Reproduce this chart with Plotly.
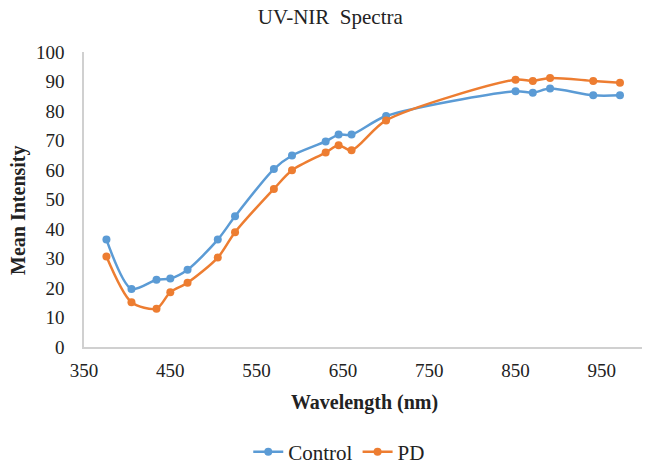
import plotly.graph_objects as go

# wavelengths (nm)
wavelength = [376, 405, 434, 450, 470, 505, 525, 570, 591, 630,
              645, 660, 700, 850, 870, 890, 940, 971]
control = [36.4, 19.7, 22.8, 23.2, 26.2, 36.4, 44.3, 60.3, 64.9, 69.7,
           72.0, 72.0, 78.3, 86.7, 86.2, 87.6, 85.3, 85.3]
pd_vals = [30.7, 15.2, 13.0, 18.6, 21.8, 30.3, 38.9, 53.6, 59.9, 65.9,
           68.4, 66.7, 76.8, 90.6, 90.2, 91.2, 90.2, 89.6]

x_ticks = [350, 450, 550, 650, 750, 850, 950]
y_ticks = list(range(0, 101, 10))

FONT = "Liberation Serif"
BLUE = "#5B9BD5"
ORANGE = "#ED7D31"

fig = go.Figure()
for name, vals, col in [("Control", control, BLUE), ("PD", pd_vals, ORANGE)]:
    fig.add_trace(go.Scatter(
        x=wavelength, y=vals, name=name,
        mode="lines+markers",
        line=dict(color=col, width=2.5, shape="spline", smoothing=0.8),
        marker=dict(color=col, size=8),
    ))

tick_font = dict(family=FONT, size=19, color="#222222")

# page body adds an 8px offset, so the figure is a bit smaller than the window
fig.update_layout(
    width=642, height=458,
    margin=dict(l=76, r=5, t=44, b=119, autoexpand=False),
    paper_bgcolor="white", plot_bgcolor="white",
    font=dict(family=FONT, size=19, color="#222222"),
    title=dict(text="UV-NIR  Spectra", x=0.502, xanchor="center",
               y=1.0, yanchor="top", pad=dict(t=1),
               font=dict(family=FONT, size=21, color="#222222")),
    showlegend=True,
    legend=dict(orientation="h", x=0.455, xanchor="center", y=-0.356,
                yanchor="middle",
                font=dict(family=FONT, size=21, color="#222222")),
    xaxis=dict(
        range=[350, 1000], tickvals=x_ticks, showgrid=False, zeroline=False,
        showline=True, linecolor="#D0D0D0", linewidth=1.5, ticks="",
        ticklabelstandoff=5, tickfont=tick_font, automargin=False,
        title=dict(text="<b>Wavelength (nm)</b>", standoff=15,
                   font=dict(family=FONT, size=20, color="#222222")),
    ),
    yaxis=dict(
        range=[0, 100], tickvals=y_ticks, showgrid=False, zeroline=False,
        showline=True, linecolor="#D0D0D0", linewidth=1.5, ticks="",
        ticklabelstandoff=14, tickfont=tick_font, automargin=False,
    ),
    annotations=[dict(
        text="<b>Mean Intensity</b>", textangle=-90, showarrow=False,
        xref="paper", yref="paper", x=-0.118, y=0.464,
        xanchor="center", yanchor="middle",
        font=dict(family=FONT, size=20, color="#222222"),
    )],
)

fig.write_html("out.html")
